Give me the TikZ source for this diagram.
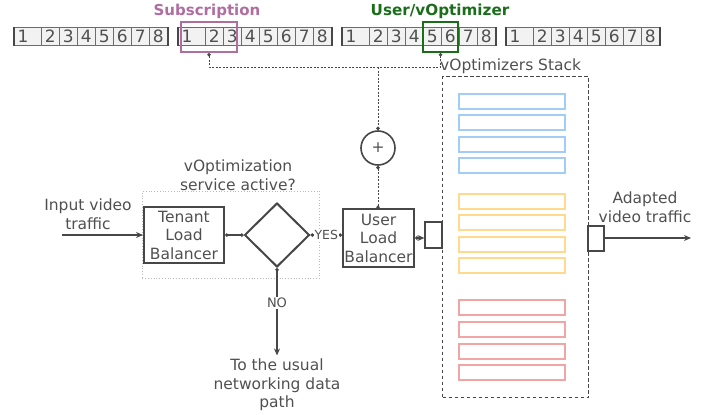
\documentclass[tikz,border=0pt]{standalone}
\usepackage{fontspec}
\setmainfont{DejaVu Sans}
\usetikzlibrary{shapes.geometric,arrows.meta}
\definecolor{txt}{HTML}{505050}
\definecolor{ln}{HTML}{474747}
\definecolor{subc}{HTML}{B06DA0}
\definecolor{usrc}{HTML}{1A6E1A}
\definecolor{bluec}{HTML}{A3CDF7}
\definecolor{orac}{HTML}{FFD98C}
\definecolor{redc}{HTML}{F2A5A5}
\definecolor{cellf}{HTML}{F2F2F2}
\begin{document}
\begin{tikzpicture}[x=1pt,y=-1pt,
  font=\fontsize{15.5}{18.5}\selectfont, text=txt,
  cell/.style={draw=ln!80, fill=cellf, line width=0.8pt, minimum height=18, inner sep=0, anchor=north west, font=\fontsize{17}{17}\selectfont},
  digit/.style={inner sep=0, font=\fontsize{17}{17}\selectfont},
  box/.style={draw=ln, line width=2pt, inner sep=1pt, align=center},
  dotline/.style={draw=ln, line width=1pt, dash pattern=on 2pt off 1.5pt},
  dotends/.style={{Circle[length=3.5pt]}-{Circle[length=3.5pt]}},
  conn/.style={draw=ln, line width=1.2pt},
  optbox/.style={draw=#1, line width=2pt, fill=white, minimum width=106, minimum height=15, inner sep=0, anchor=north west},
  smallbox/.style={draw=ln, line width=1.2pt, inner sep=0, fill=white}
]
\useasboundingbox (0,0) rectangle (718,415);

% register strips
\foreach \s/\X in {1/14,2/178,3/342,4/506}{
  \node[cell, minimum width=27] (s\s-c1) at (\X,27) {};
  \node[digit] (s\s-d1) at (\X+9,36) {1};
  \foreach \k in {2,...,8}{
    \node[cell, minimum width=18] (s\s-c\k) at ({\X+27+(\k-2)*18},27) {\k};
  }
  \draw[ln, line width=1.6pt] (s\s-c1.north west) -- (s\s-c1.south west);
  \draw[ln, line width=1.6pt] (s\s-c8.north east) -- (s\s-c8.south east);
}

% highlight boxes
\node[draw=subc, line width=2pt, minimum width=56, minimum height=30, inner sep=0, anchor=north west] (sub) at (180,21) {};
\node[font=\bfseries\fontsize{15}{15}\selectfont, text=subc] (sublbl) at (207,11) {Subscription};
\node[draw=usrc, line width=2pt, minimum width=35, minimum height=30, inner sep=0, anchor=north west] (usr) at (422,21) {};
\node[font=\bfseries\fontsize{15.2}{15}\selectfont, text=usrc] (usrlbl) at (440,11) {User/vOptimizer};

% stack
\node[draw=ln, line width=1.2pt, dash pattern=on 3.5pt off 2.5pt, minimum width=146, minimum height=321, inner sep=0, anchor=north west] (stack) at (442,76) {};
\node[anchor=west, inner sep=0] (stacklbl) at (440,66) {vOptimizers Stack};
\foreach \i/\Y in {1/93,2/114,3/136,4/157}{\node[optbox=bluec] (b\i) at (458,\Y) {};}
\foreach \i/\Y in {1/193,2/214,3/236,4/257}{\node[optbox=orac] (o\i) at (458,\Y) {};}
\foreach \i/\Y in {1/299,2/321,3/343,4/364}{\node[optbox=redc] (r\i) at (458,\Y) {};}

% plus
\node[circle, draw=ln, line width=1.6pt, minimum size=34, inner sep=0] (plus) at (378,148) {+};

% dotted control lines
\coordinate (jl) at (378,67);
\draw[dotline, {Circle[length=3.5pt]}-{Circle[length=3.5pt]}] (sub.south) |- (usr.south |- jl) -- (usr.south);
\draw[dotline, -{Circle[length=3.5pt]}] (jl) -- (plus.north);
\draw[dotline, dotends] (plus.south) -- (378,209);

% decision region
\node[draw=gray!55, dotted, line width=0.8pt, minimum width=177, minimum height=87, inner sep=0, anchor=north west] (region) at (142,191) {};
\node[align=center, inner sep=0] (qlbl) at (238,175) {vOptimization\\service active?};

\node[align=center] (inlbl) at (88,214) {Input video\\traffic};
\coordinate (instart) at (62,235);
\node[box, minimum width=80, minimum height=56] (tlb) at (184,235) {Tenant\\Load\\Balancer};
\node[diamond, draw=ln, line width=2pt, minimum width=65, minimum height=64, inner sep=0] (dec) at (277,235) {};
\node[box, minimum width=71, minimum height=58] (ulb) at (378.5,238) {User\\Load\\Balancer};

\draw[conn, -{Stealth[length=7pt,width=6pt]}] (instart) -- (tlb.west);
\draw[conn, dotends] (tlb.east) -- (dec.west);
\draw[conn, dotends] (dec.east) -- node[fill=white, inner sep=1pt, font=\fontsize{12.5}{13}\selectfont] (yes) {YES} (dec.east -| ulb.west);

\node[align=center] (usual) at (277,385) {To the usual\\networking data\\path};
\draw[conn, {Circle[length=3.5pt]}-{Stealth[length=7pt,width=6pt]}] (dec.south) -- node[fill=white, inner sep=1pt, font=\fontsize{13}{13}\selectfont, pos=0.4] (no) {NO} (usual.north);

% in/out small boxes
\node[smallbox, minimum width=17, minimum height=26] (inbox) at (433.5,235) {};
\node[smallbox, minimum width=16, minimum height=25] (outbox) at (596,238.5) {};
\draw[conn, {Circle[length=3.5pt]}-{Stealth[length=7pt,width=6pt]}] (ulb.east) -- (ulb.east -| inbox.west);
\coordinate (outend) at (691,238);
\draw[conn, -{Stealth[length=7pt,width=6pt]}] (outbox.east |- outend) -- (outend);
\node[align=center] (outlbl) at (645,207) {Adapted\\video traffic};
\end{tikzpicture}
\end{document}
